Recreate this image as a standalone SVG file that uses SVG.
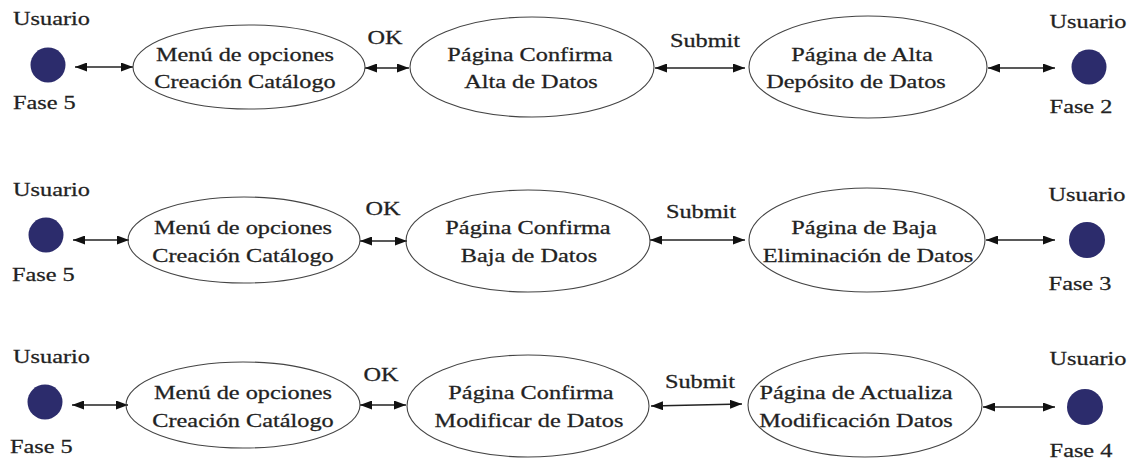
<svg xmlns="http://www.w3.org/2000/svg" width="1135" height="461" viewBox="0 0 1135 461">
<style>
.t{font-family:"Liberation Serif","Times New Roman",serif;font-size:18px;fill:#222;stroke:#222;stroke-width:0.25;text-anchor:middle}
.s{text-anchor:start}
.e{fill:none;stroke:#444;stroke-width:1.1}
.c{fill:#2c2c6c}
.a{fill:none;stroke:#222;stroke-width:1.3;marker-start:url(#ah);marker-end:url(#ah)}
</style>
<defs>
<marker id="ah" markerUnits="userSpaceOnUse" markerWidth="12" markerHeight="9" refX="12" refY="4.5" orient="auto-start-reverse"><path d="M0,0 L12,4.5 L0,9 z" fill="#111"/></marker>
</defs>
<rect width="1135" height="461" fill="#fff"/>
<g id="connectors">
<line class="a" x1="75" y1="67" x2="133" y2="67"/>
<line class="a" x1="365" y1="68" x2="409" y2="68"/>
<line class="a" x1="655" y1="68" x2="745" y2="68"/>
<line class="a" x1="988" y1="68" x2="1055" y2="68"/>
<line class="a" x1="73" y1="240" x2="129" y2="240"/>
<line class="a" x1="360" y1="241" x2="407" y2="241"/>
<line class="a" x1="650" y1="240" x2="745" y2="240"/>
<line class="a" x1="986" y1="240" x2="1055" y2="240"/>
<line class="a" x1="72" y1="405" x2="128" y2="405"/>
<line class="a" x1="360" y1="405" x2="406" y2="405"/>
<line class="a" x1="651" y1="406" x2="742" y2="404"/>
<line class="a" x1="983" y1="407" x2="1055" y2="407"/>
</g>
<g id="labels">
<text class="t" transform="translate(385,44) scale(1.35,1)">OK</text>
<text class="t" transform="translate(705,47) scale(1.35,1)">Submit</text>
<text class="t" transform="translate(383,215) scale(1.35,1)">OK</text>
<text class="t" transform="translate(701,218) scale(1.35,1)">Submit</text>
<text class="t" transform="translate(381,381) scale(1.35,1)">OK</text>
<text class="t" transform="translate(700,388) scale(1.35,1)">Submit</text>
</g>
<g id="user-l1"><text class="t s" transform="translate(13,25) scale(1.35,1)">Usuario</text><circle class="c" cx="48" cy="65" r="17.5"/><text class="t s" transform="translate(13,109) scale(1.35,1)">Fase 5</text></g>
<g id="menu1"><ellipse class="e" cx="249" cy="67" rx="116" ry="42"/><text class="t" transform="translate(245,61) scale(1.35,1)">Menú de opciones</text><text class="t" transform="translate(245,88) scale(1.35,1)">Creación Catálogo</text></g>
<g id="confirma1"><ellipse class="e" cx="532" cy="67" rx="122" ry="50"/><text class="t" transform="translate(530,61) scale(1.35,1)">Página Confirma</text><text class="t" transform="translate(531,88) scale(1.35,1)">Alta de Datos</text></g>
<g id="alta"><ellipse class="e" cx="868" cy="67" rx="119" ry="51"/><text class="t" transform="translate(862,61) scale(1.35,1)">Página de Alta</text><text class="t" transform="translate(856,88) scale(1.35,1)">Depósito de Datos</text></g>
<g id="user-r1"><text class="t" transform="translate(1088,28) scale(1.35,1)">Usuario</text><circle class="c" cx="1089" cy="67" r="17.5"/><text class="t" transform="translate(1081,113) scale(1.35,1)">Fase 2</text></g>
<g id="user-l2"><text class="t s" transform="translate(13,196) scale(1.35,1)">Usuario</text><circle class="c" cx="46" cy="235" r="17.5"/><text class="t s" transform="translate(12,281) scale(1.35,1)">Fase 5</text></g>
<g id="menu2"><ellipse class="e" cx="244" cy="240" rx="116" ry="43"/><text class="t" transform="translate(243,234) scale(1.35,1)">Menú de opciones</text><text class="t" transform="translate(243,262) scale(1.35,1)">Creación Catálogo</text></g>
<g id="confirma2"><ellipse class="e" cx="528" cy="241" rx="122" ry="51"/><text class="t" transform="translate(528,234) scale(1.35,1)">Página Confirma</text><text class="t" transform="translate(529,262) scale(1.35,1)">Baja de Datos</text></g>
<g id="baja"><ellipse class="e" cx="867" cy="240" rx="118" ry="52"/><text class="t" transform="translate(864,234) scale(1.35,1)">Página de Baja</text><text class="t" transform="translate(868,262) scale(1.35,1)">Eliminación de Datos</text></g>
<g id="user-r2"><text class="t" transform="translate(1087,201) scale(1.35,1)">Usuario</text><circle class="c" cx="1087" cy="240" r="18"/><text class="t" transform="translate(1080,290) scale(1.35,1)">Fase 3</text></g>
<g id="user-l3"><text class="t s" transform="translate(13,363) scale(1.35,1)">Usuario</text><circle class="c" cx="45" cy="402" r="17.5"/><text class="t s" transform="translate(10,453) scale(1.35,1)">Fase 5</text></g>
<g id="menu3"><ellipse class="e" cx="243" cy="405" rx="117" ry="43"/><text class="t" transform="translate(243,399) scale(1.35,1)">Menú de opciones</text><text class="t" transform="translate(243,427) scale(1.35,1)">Creación Catálogo</text></g>
<g id="confirma3"><ellipse class="e" cx="528" cy="406" rx="121" ry="51"/><text class="t" transform="translate(531,399) scale(1.35,1)">Página Confirma</text><text class="t" transform="translate(529,427) scale(1.35,1)">Modificar de Datos</text></g>
<g id="actualiza"><ellipse class="e" cx="865" cy="405" rx="117" ry="52"/><text class="t" transform="translate(856,399) scale(1.35,1)">Página de Actualiza</text><text class="t" transform="translate(856,427) scale(1.35,1)">Modificación Datos</text></g>
<g id="user-r3"><text class="t" transform="translate(1088,365) scale(1.35,1)">Usuario</text><circle class="c" cx="1085" cy="407" r="18"/><text class="t" transform="translate(1081,457) scale(1.35,1)">Fase 4</text></g>
</svg>
